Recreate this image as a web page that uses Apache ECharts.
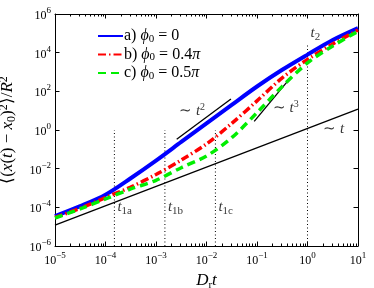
<!DOCTYPE html>
<html><head><meta charset="utf-8">
<script src="https://cdn.jsdelivr.net/npm/echarts@6/dist/echarts.min.js"></script>
<style>html,body{margin:0;padding:0;background:#fff}#c{width:374px;height:288px}</style>
</head><body><div id="c"></div>
<script>
// ---- data ----
const times = [1e-5, 3.16e-5, 1e-4, 3.16e-4, 1e-3, 3.16e-3, 1e-2, 3.16e-2, 1e-1, 3.16e-1, 1, 3.16, 10];
const msdA = [3.5e-5, 1.15e-4, 4.5e-4, 3.2e-3, 2.6e-2, 0.24, 2.2, 20, 178, 1300, 7900, 4.5e4, 1.86e5];
const msdB = [3.0e-5, 8.9e-5, 3.2e-4, 1.12e-3, 5.0e-3, 2.8e-2, 0.19, 2.2, 32, 500, 4470, 2.8e4, 1.48e5];
const msdC = [2.8e-5, 8.3e-5, 2.7e-4, 8.9e-4, 2.5e-3, 1.12e-2, 4.5e-2, 0.40, 7.9, 180, 2950, 2.24e4, 1.26e5];
const linearRefX = [1e-5, 10];
const linearRefY = [1.2e-5, 12];
const quadRefX = [2.57e-3, 3.05e-2];
const quadRefY = [0.33, 40];
const cubicRefX = [0.088, 0.39];
const cubicRefY = [2.8, 300];
const markTimes = [1.5e-4, 1.5e-3, 1.5e-2, 1];
const markTops = [1, 1, 1, 3e4];
const markSubs = ['1a', '1b', '1c', '2'];
const markLabelY = [1e-4, 1e-4, 1e-4, 1e5];
const slopeLabels = [
  {x: 5.2e-3, y: 9, text: '{n|∼ }{i|t}{sup|2}'},
  {x: 0.37, y: 13, text: '{n|∼ }{i|t}{sup|3}'},
  {x: 3.3, y: 1.1, text: '{n|∼ }{i|t}'}
];
const xTickExps = [-5, -4, -3, -2, -1, 0, 1];
const yTickExps = [-6, -4, -2, 0, 2, 4, 6];
const minorMultipliers = [2, 3, 4, 5, 6, 7, 8, 9];
const legendNames = ['a', 'b', 'c'];
const legendTexts = ['{n|a) }{i|ϕ}{sub|0}{n| = 0}', '{n|b) }{i|ϕ}{sub|0}{n| = 0.4}{i|π}', '{n|c) }{i|ϕ}{sub|0}{n| = 0.5}{i|π}'];

// ---- chart ----
const FONT = 'Liberation Serif';
function mathRich(size, small, lh) {
  return {
    n: {fontFamily: FONT, fontSize: size, lineHeight: lh, verticalAlign: 'middle', color: '#000'},
    i: {fontFamily: FONT, fontSize: size, fontStyle: 'italic', lineHeight: lh, verticalAlign: 'middle', color: '#000'},
    sub: {fontFamily: FONT, fontSize: small, lineHeight: small, verticalAlign: 'bottom', color: '#000'},
    sup: {fontFamily: FONT, fontSize: small, lineHeight: small, verticalAlign: 'top', color: '#000'}
  };
}
const tickRich = {
  b: {fontFamily: FONT, fontSize: 12, lineHeight: 16, verticalAlign: 'bottom', color: '#000'},
  s: {fontFamily: FONT, fontSize: 9, lineHeight: 9, verticalAlign: 'top', color: '#000'}
};
function expOf(v) { return Math.round(Math.log10(v)); }
function tickFmt(list) {
  return function (v) {
    const e = expOf(v);
    if (list.indexOf(e) < 0) return '';
    return '{b|10}{s|' + (e < 0 ? '−' + (-e) : e) + '}';
  };
}
function zip(xs, ys) { return xs.map((x, k) => [x, ys[k]]); }

const minorTickX = [];
xTickExps.slice(0, -1).forEach(e => minorMultipliers.forEach(m => minorTickX.push([m * Math.pow(10, e), 1])));

const series = [];
series.push({type: 'line', data: zip(linearRefX, linearRefY), symbol: 'none', silent: true,
  lineStyle: {color: '#000', width: 1.3}, z: 2});
series.push({type: 'line', data: zip(quadRefX, quadRefY), symbol: 'none', silent: true,
  lineStyle: {color: '#000', width: 1.3}, z: 2});
series.push({type: 'line', data: zip(cubicRefX, cubicRefY), symbol: 'none', silent: true,
  lineStyle: {color: '#000', width: 1.3}, z: 2});
markTimes.forEach((t, k) => {
  series.push({type: 'line', data: [[t, 1e-6], [t, markTops[k]]], symbol: 'none', silent: true,
    lineStyle: {color: '#000', width: 1, type: [1, 2.5]}, z: 1});
});
series.push({name: 'a', type: 'line', data: zip(times, msdA), symbol: 'none', smooth: 0.3,
  lineStyle: {color: '#0000ff', width: 4}, itemStyle: {color: '#0000ff'}, z: 3});
series.push({name: 'b', type: 'line', data: zip(times, msdB), symbol: 'none', smooth: 0.3,
  lineStyle: {color: '#ff0000', width: 3.5, type: [8, 3, 1.5, 3]}, itemStyle: {color: '#ff0000'}, z: 4});
series.push({name: 'c', type: 'line', data: zip(times, msdC), symbol: 'none', smooth: 0.3,
  lineStyle: {color: '#00ee00', width: 3.5, type: [8, 5]}, itemStyle: {color: '#00ee00'}, z: 5});
series.push({type: 'scatter', silent: true, symbolSize: 0, z: 6,
  data: markTimes.map((t, k) => [t, markLabelY[k]]),
  label: {show: true, position: 'right', distance: 3,
    formatter: p => '{i|t}{sub|' + markSubs[p.dataIndex] + '}', rich: mathRich(15, 11, 18)}});
series.push({type: 'scatter', silent: true, symbolSize: 0, z: 6,
  data: slopeLabels.map(s => [s.x, s.y]),
  label: {show: true, position: 'inside',
    formatter: p => slopeLabels[p.dataIndex].text, rich: mathRich(15, 10, 18)}});
series.push({type: 'custom', silent: true, z: 7, data: minorTickX, encode: {x: 0, y: 1},
  renderItem: function (params, api) {
    const x = Math.round(api.coord([api.value(0), 1])[0]) + 0.5;
    const cs = params.coordSys;
    const yb = cs.y + cs.height, yt = cs.y;
    return {type: 'group', children: [
      {type: 'line', shape: {x1: x, y1: yb, x2: x, y2: yb - 2.5}, style: {stroke: '#000', lineWidth: 1}},
      {type: 'line', shape: {x1: x, y1: yt, x2: x, y2: yt + 2.5}, style: {stroke: '#000', lineWidth: 1}}
    ]};
  }});

const axisCommonX = {type: 'log', logBase: 10, min: 1e-5, max: 10,
  axisLine: {show: true, lineStyle: {color: '#000', width: 1}},
  axisTick: {show: true, inside: true, length: 4.5, lineStyle: {color: '#000'}},
  splitLine: {show: false}};
const axisCommonY = {type: 'log', logBase: 10, min: 1e-6, max: 1e6, interval: 2,
  axisLine: {show: true, lineStyle: {color: '#000', width: 1}},
  axisTick: {show: true, inside: true, length: 4.5, lineStyle: {color: '#000'}},
  splitLine: {show: false}};

const option = {
  animation: false,
  backgroundColor: '#fff',
  grid: {left: 55, top: 14, right: 16, bottom: 42, show: false, containLabel: false, outerBoundsMode: 'none'},
  legend: {data: legendNames, orient: 'vertical', left: 92, top: 23, itemWidth: 25, itemHeight: 12,
    itemGap: 2, selectedMode: false,
    itemStyle: {opacity: 0},
    formatter: name => legendTexts[legendNames.indexOf(name)],
    textStyle: {rich: mathRich(16, 11, 17), padding: [0, 0, 0, -4]}},
  xAxis: [
    Object.assign({}, axisCommonX, {position: 'bottom',
      axisLabel: {formatter: tickFmt(xTickExps), rich: tickRich, margin: 5},
      name: '{i|D}{sub|r}{i|t}', nameLocation: 'middle', nameGap: 24,
      nameTextStyle: {rich: mathRich(17, 11, 20)}}),
    Object.assign({}, axisCommonX, {position: 'top', axisLabel: {show: false}})
  ],
  yAxis: [
    Object.assign({}, axisCommonY, {position: 'left',
      axisLabel: {formatter: tickFmt(yTickExps), rich: tickRich, margin: 4},
      name: '{n|⟨(}{i|x}{n|(}{i|t}{n|) − }{i|x}{sub|0}{n|)}{sup|2}{n|⟩/}{i|R}{sup|2}',
      nameLocation: 'middle', nameGap: 37, nameRotate: 90,
      nameTextStyle: {rich: mathRich(17, 12, 20)}}),
    Object.assign({}, axisCommonY, {position: 'right', axisLabel: {show: false}})
  ],
  series: series
};
const chart = echarts.init(document.getElementById('c'), null, {renderer: 'canvas'});
chart.setOption(option);
</script>
</body></html>
